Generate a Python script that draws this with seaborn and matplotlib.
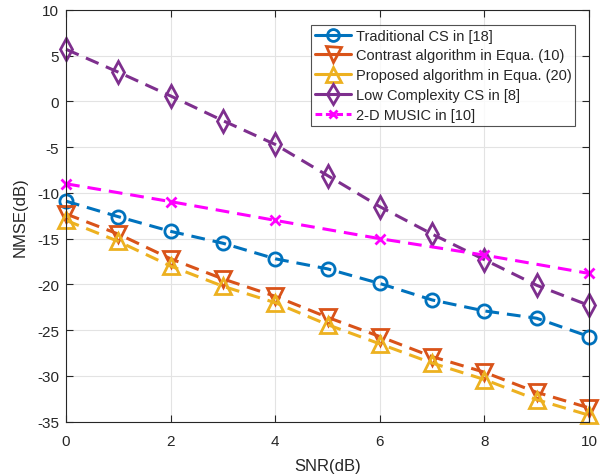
import matplotlib
matplotlib.use("Agg")
import matplotlib.pyplot as plt
from matplotlib.lines import Line2D
import seaborn as sns
import numpy as np
import pandas as pd

snr = [0, 1, 2, 3, 4, 5, 6, 7, 8, 9, 10]
traditional_cs = [-10.9, -12.6, -14.2, -15.5, -17.2, -18.3, -19.9, -21.7, -22.9, -23.7, -25.7]
contrast_alg = [-12.3, -14.5, -17.2, -19.4, -21.3, -23.6, -25.7, -27.9, -29.6, -31.8, -33.5]
proposed_alg = [-13.0, -15.3, -18.0, -20.2, -22.0, -24.4, -26.5, -28.6, -30.4, -32.6, -34.3]
low_complexity_cs = [5.7, 3.2, 0.6, -2.1, -4.7, -8.1, -11.5, -14.5, -17.3, -20.1, -22.3]
snr_music = [0, 2, 4, 6, 8, 10]
music_2d = [-9.0, -10.95, -13.0, -15.0, -16.8, -18.8]

labels = ["Traditional CS in [18]", "Contrast algorithm in Equa. (10)",
          "Proposed algorithm in Equa. (20)", "Low Complexity CS in [8]",
          "2-D MUSIC in [10]"]
colors = ["#0072BD", "#D95319", "#EDB120", "#7E2F8E", "#FF00FF"]
markers = ["o", "v", "^", "d", "x"]
msizes = [9.5, 12, 12, 11, 7]

sns.set_style("white")
plt.rcParams['font.family'] = ['Liberation Sans', 'DejaVu Sans']
plt.rcParams['axes.unicode_minus'] = False

fig = plt.figure(figsize=(6.06, 4.77), dpi=100)
ax = fig.add_axes([0.109, 0.114, 0.863, 0.863])

series = [(snr, traditional_cs), (snr, contrast_alg), (snr, proposed_alg),
          (snr, low_complexity_cs), (snr_music, music_2d)]
dash = (0, (4.5, 2.6))
for (xs, ys), lab, c, m, ms in zip(series, labels, colors, markers, msizes):
    df = pd.DataFrame({"SNR": xs, "NMSE": ys})
    sns.lineplot(data=df, x="SNR", y="NMSE", ax=ax, color=c,
                 marker=m, markersize=ms, markerfacecolor="none",
                 markeredgecolor=c, markeredgewidth=2.0, linewidth=2.2,
                 linestyle=dash, clip_on=False, legend=False)

ax.set_xlim(0, 10)
ax.set_ylim(-35, 10)
ax.set_xticks([0, 2, 4, 6, 8, 10])
ax.set_yticks(np.arange(-35, 11, 5))
ax.grid(True, color="#e3e3e3", linewidth=0.8)
ax.set_axisbelow(True)
ax.tick_params(direction="in", length=5, labelsize=11, colors="#262626",
               top=True, right=True, bottom=True, left=True)
ax.tick_params(axis="x", pad=9)
ax.tick_params(axis="y", pad=5)
for sp in ax.spines.values():
    sp.set_color("#262626")
    sp.set_linewidth(0.8)
ax.set_xlabel("SNR(dB)", fontsize=12, color="#262626", labelpad=7)
ax.set_ylabel("NMSE(dB)", fontsize=12, color="#262626", labelpad=7)

handles = []
for i, (lab, c, m, ms) in enumerate(zip(labels, colors, markers, msizes)):
    ls = "-" if i < 4 else (0, (2.2, 1.2))
    handles.append(Line2D([], [], color=c, marker=m, markersize=ms * 0.9,
                          markerfacecolor="none", markeredgecolor=c,
                          markeredgewidth=2.0, linewidth=2.2, linestyle=ls))
leg = ax.legend(handles, labels, loc="upper left", bbox_to_anchor=(0.4685, 0.9635),
                fontsize=10.5, frameon=True, fancybox=False, edgecolor="#262626",
                handlelength=2.5, borderpad=0.25, labelspacing=0.4,
                handletextpad=0.3, borderaxespad=0)
leg.get_frame().set_linewidth(0.8)

fig.savefig("out.png", dpi=100)
